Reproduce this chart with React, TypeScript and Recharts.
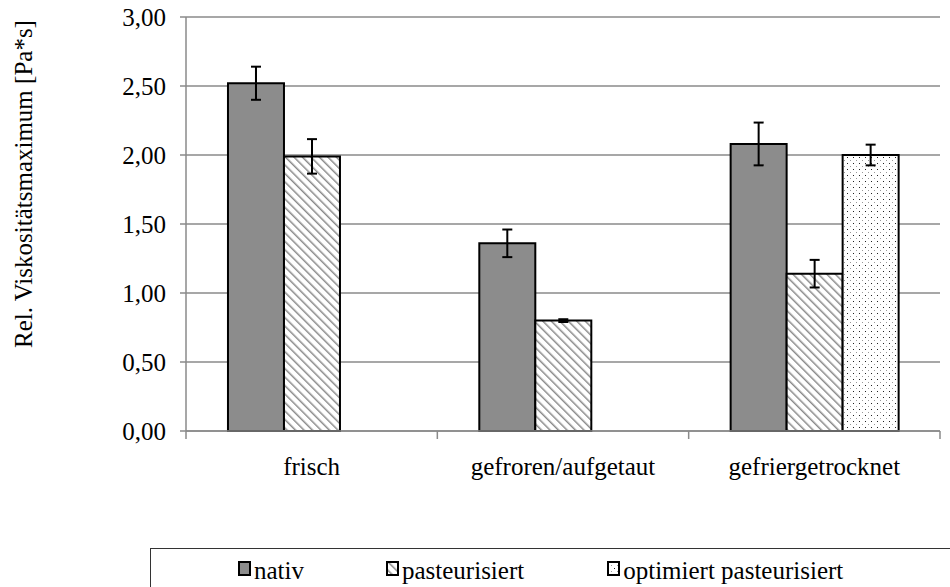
import React from 'react';
import { BarChart, Bar, XAxis, YAxis, CartesianGrid, ErrorBar, Legend, Label } from 'recharts';

const categories = ['frisch', 'gefroren/aufgetaut', 'gefriergetrocknet'];
const nativ = [2.52, 1.36, 2.08];
const nativErr = [0.12, 0.1, 0.155];
const pasteurisiert = [1.99, 0.8, 1.14];
const pasteurisiertErr = [0.125, 0.01, 0.1];
const optimiert: (number | null)[] = [null, null, 2.0];
const optimiertErr: (number | null)[] = [null, null, 0.075];
const yTicks = [0, 0.5, 1, 1.5, 2, 2.5, 3];

const data = categories.map((name, i) => ({
  name,
  nativ: nativ[i],
  nativErr: nativErr[i],
  pasteurisiert: pasteurisiert[i],
  pasteurisiertErr: pasteurisiertErr[i],
  optimiert: optimiert[i],
  optimiertErr: optimiertErr[i],
}));

const FONT = 'Liberation Serif, Tinos, Times New Roman, DejaVu Serif, serif';
const GRAY = '#8a8a8a';

const legendItems = [
  { label: 'nativ', fill: '#8c8c8c', ml: 87 },
  { label: 'pasteurisiert', fill: 'url(#hatch)', ml: 82 },
  { label: 'optimiert pasteurisiert', fill: 'url(#dots)', ml: 83 },
];

function CategoryTick(props: any) {
  const { x, y, payload, index, visibleTicksCount } = props;
  const half = payload.offset || 0;
  const axisY = y - 26;
  const isLast = index === (visibleTicksCount ?? 3) - 1;
  return (
    <g>
      <line x1={x - half} y1={axisY} x2={x - half} y2={axisY + 8} stroke={GRAY} strokeWidth={1.5} />
      {isLast && <line x1={x + half} y1={axisY} x2={x + half} y2={axisY + 8} stroke={GRAY} strokeWidth={1.5} />}
      <text x={x} y={y} dy="0.71em" textAnchor="middle" style={{ fontFamily: FONT }} fontSize={25} fill="#000">
        {payload.value}
      </text>
    </g>
  );
}

function LegendBox() {
  return (
    <div
      style={{
        border: '1.5px solid #333',
        height: 60,
        width: 830,
        boxSizing: 'border-box',
        display: 'flex',
        alignItems: 'flex-start',
        paddingTop: 9,
        fontFamily: FONT,
        fontSize: 25,
        color: '#000',
      }}
    >
      {legendItems.map((it) => (
        <div key={it.label} style={{ display: 'flex', alignItems: 'flex-start', marginLeft: it.ml }}>
          <svg width={14} height={16} style={{ marginTop: 3, marginRight: 2 }}>
            <rect x={1} y={1} width={11} height={13} fill={it.fill} stroke="#000" strokeWidth={2} />
          </svg>
          <span style={{ lineHeight: '26px' }}>{it.label}</span>
        </div>
      ))}
    </div>
  );
}

export default function App() {
  return (
    <div style={{ position: 'absolute', left: 0, top: 0, background: '#fff', fontFamily: FONT }}>
      <BarChart
        width={950}
        height={587}
        data={data}
        margin={{ top: 17, right: 10, left: 0, bottom: 96 }}
        barCategoryGap="16.7%"
        barGap={0}
        style={{ fontFamily: FONT }}
      >
        <defs>
          <pattern id="hatch" width={6} height={6} patternUnits="userSpaceOnUse" patternTransform="rotate(-45)">
            <rect width={6} height={6} fill="#fff" />
            <line x1={0} y1={0} x2={0} y2={6} stroke="#8a8a8a" strokeWidth={3} />
          </pattern>
          <pattern id="dots" width={6} height={6} patternUnits="userSpaceOnUse">
            <rect width={6} height={6} fill="#fff" />
            <rect x={1} y={1} width={1} height={1} fill="#222" />
            <rect x={4} y={4} width={1} height={1} fill="#999" />
          </pattern>
        </defs>
        <CartesianGrid vertical={false} stroke={GRAY} strokeWidth={1.5} />
        <XAxis
          dataKey="name"
          height={60}
          axisLine={{ stroke: GRAY, strokeWidth: 1.5 }}
          tickLine={false}
          tickSize={0}
          tickMargin={26}
          interval={0}
          tick={<CategoryTick />}
        />
        <YAxis
          width={186}
          domain={[0, 3]}
          ticks={yTicks}
          interval={0}
          axisLine={{ stroke: GRAY, strokeWidth: 1.5 }}
          tickLine={{ stroke: GRAY, strokeWidth: 1.5 }}
          tickSize={6}
          tickMargin={14}
          tickFormatter={(v: number) => v.toFixed(2).replace('.', ',')}
          tick={{ fontFamily: FONT, fontSize: 25, fill: '#000' }}
        >
          <Label
            content={() => (
              <text
                x={32}
                y={184}
                transform="rotate(-90 32 184)"
                textAnchor="middle"
                style={{ fontFamily: FONT }}
                fontSize={25}
                fill="#000"
              >
                Rel. Viskositätsmaximum [Pa*s]
              </text>
            )}
          />
        </YAxis>
        <Legend
          layout="horizontal"
          verticalAlign="middle"
          align="center"
          wrapperStyle={{ left: 150, top: 548, width: 830 }}
          content={() => <LegendBox />}
        />
        <Bar dataKey="nativ" fill="#8c8c8c" stroke="#000" strokeWidth={2} isAnimationActive={false}>
          <ErrorBar dataKey="nativErr" width={5} stroke="#000" strokeWidth={2} />
        </Bar>
        <Bar dataKey="pasteurisiert" fill="url(#hatch)" stroke="#000" strokeWidth={2} isAnimationActive={false}>
          <ErrorBar dataKey="pasteurisiertErr" width={5} stroke="#000" strokeWidth={2} />
        </Bar>
        <Bar dataKey="optimiert" fill="url(#dots)" stroke="#000" strokeWidth={2} isAnimationActive={false}>
          <ErrorBar dataKey="optimiertErr" width={5} stroke="#000" strokeWidth={2} />
        </Bar>
      </BarChart>
    </div>
  );
}
